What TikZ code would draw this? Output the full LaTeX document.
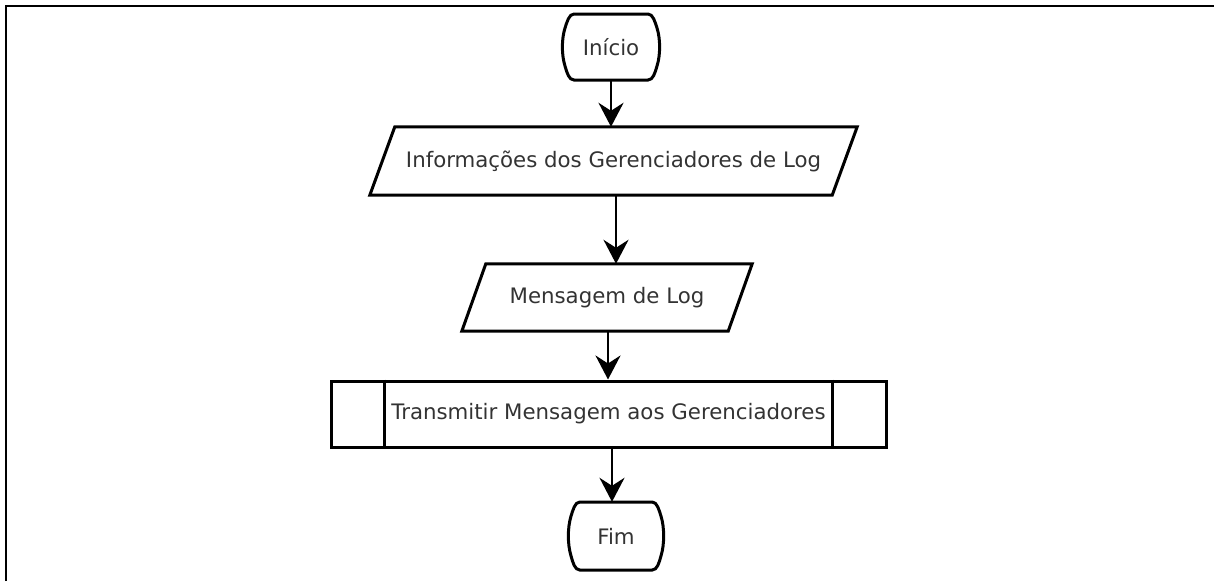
\documentclass[tikz,border=0pt]{standalone}
\usepackage{fontspec}
\setmainfont{DejaVu Sans}
\usetikzlibrary{arrows.meta,calc}
\begin{document}
\begin{tikzpicture}[x=1pt,y=-1pt,
  line/.style={line width=3pt, line join=miter},
  arr/.style={line width=2.5pt, -{Stealth[length=24pt,width=25pt,inset=8pt]}},
  lbl/.style={font=\fontsize{21.3}{25}\selectfont, text=black!80, inner sep=0pt},
  termpath/.style={line, shift={(#1.center)}},
]
\useasboundingbox (0,0) rectangle (1214,581);

% page frame (top and left edges)
\draw[line width=2pt] (6,581) -- (6,6) -- (1214,6);

% start terminal
\node[lbl, minimum width=98pt, minimum height=66pt] (ini) at (611,47) {Início};
\draw[termpath=ini] (-37,-33) -- (37,-33)
  .. controls (42,-33) and (44,-25) .. (46,-19)
  .. controls (49.5,-8) and (49.5,8) .. (46,19)
  .. controls (44,26) and (42,33) .. (37,33) -- (-37,33)
  .. controls (-42,33) and (-44,26) .. (-46,19)
  .. controls (-49.5,8) and (-49.5,-8) .. (-46,-19)
  .. controls (-44,-25) and (-42,-33) .. (-37,-33) -- cycle;

% input: manager information
\node[lbl, minimum width=487pt, minimum height=68pt] (info) at (613.5,161)
  {Informações dos Gerenciadores de Log};
\draw[line] ($(info.north west)+(25,0)$) -- (info.north east)
  -- ($(info.south east)+(-25,0)$) -- (info.south west) -- cycle;

% input: log message
\node[lbl, minimum width=290pt, minimum height=67pt] (msg) at (607,297.5)
  {Mensagem de Log};
\draw[line] ($(msg.north west)+(24,0)$) -- (msg.north east)
  -- ($(msg.south east)+(-24,0)$) -- (msg.south west) -- cycle;

% predefined process
\node[lbl, draw=black, line width=3pt, minimum width=555pt, minimum height=66pt] (proc)
  at (608.5,414) {Transmitir Mensagem aos Gerenciadores};
\draw[line] ($(proc.north west)+(55,0)$) -- ($(proc.south west)+(55,0)$);
\draw[line] ($(proc.north east)+(-55,0)$) -- ($(proc.south east)+(-55,0)$);

% end terminal
\node[lbl, minimum width=96pt, minimum height=68pt] (fim) at (616,536) {Fim};
\draw[termpath=fim, xscale=0.98, yscale=1.03] (-37,-33) -- (37,-33)
  .. controls (42,-33) and (44,-25) .. (46,-19)
  .. controls (49.5,-8) and (49.5,8) .. (46,19)
  .. controls (44,26) and (42,33) .. (37,33) -- (-37,33)
  .. controls (-42,33) and (-44,26) .. (-46,19)
  .. controls (-49.5,8) and (-49.5,-8) .. (-46,-19)
  .. controls (-44,-25) and (-42,-33) .. (-37,-33) -- cycle;

% connector start points, slightly off the box centres
\coordinate (infoout) at ([xshift=2.5pt]info.south);
\coordinate (msgout) at ([xshift=1pt]msg.south);
\coordinate (fimin) at ([xshift=-4pt]fim.north);

% flow
\draw[arr] (ini.south) -- (info.north -| ini.south);
\draw[arr] (infoout) -- (msg.north -| infoout);
\draw[arr] (msgout) -- (proc.north -| msgout);
\draw[arr] (proc.south -| fimin) -- (fimin);
\end{tikzpicture}
\end{document}
